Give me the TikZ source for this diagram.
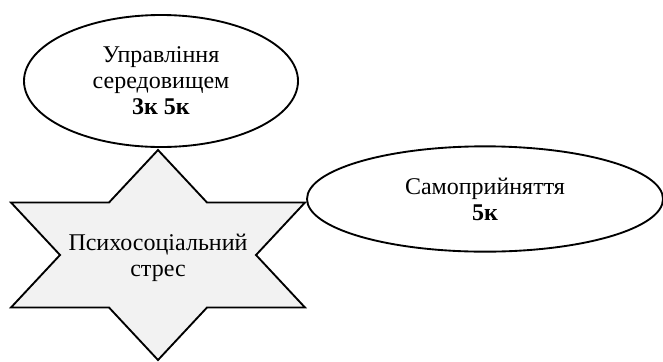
\documentclass[tikz,border=0pt]{standalone}
\usepackage{fontspec}
\setmainfont{Liberation Serif}
\usetikzlibrary{shapes.geometric}
\definecolor{stressfill}{HTML}{F2F2F2}

\begin{document}
\begin{tikzpicture}[x = 0.75pt, y = -0.75pt, font = \fontsize{18}{19.5}\selectfont]
\useasboundingbox (0, 0) rectangle (663, 361);

\node [draw = black, line width = 1.4pt, shape = ellipse, minimum width = 205.5pt, minimum height = 99pt, inner sep = 0pt, align = center] (env) at (161, 81) {Управління\\середовищем\\\textbf{3к 5к}};

\node [draw = black, line width = 1.4pt, shape = ellipse, minimum width = 267pt, minimum height = 79pt, inner sep = 0pt, align = center] (self) at (485, 199) {Самоприйняття\\\textbf{5к}};

\path [draw = black, line width = 1.4pt, fill = stressfill] (158, 150) -- (207, 202.5) -- (305, 202.5) -- (256, 255) -- (305, 307.5) -- (207, 307.5) -- (158, 360) -- (109, 307.5) -- (11, 307.5) -- (60, 255) -- (11, 202.5) -- (109, 202.5) -- cycle;
\node [align = center] (stress) at (158, 258) {Психосоціальний\\стрес};
\end{tikzpicture}
\end{document}
